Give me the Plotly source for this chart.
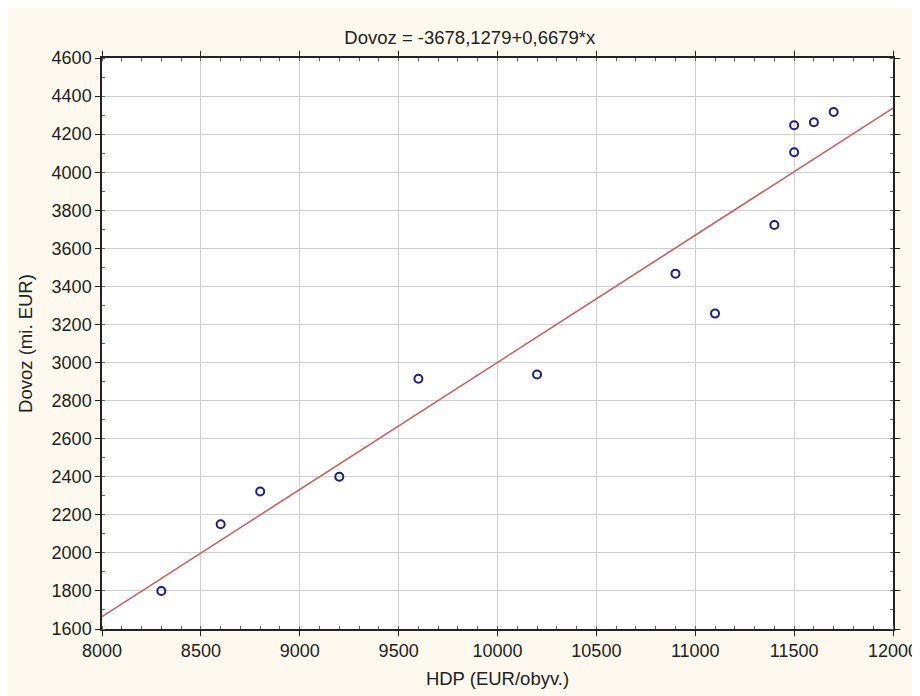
import plotly.graph_objects as go

hdp = [8300, 8600, 8800, 9200, 9600, 10200, 10900, 11100, 11400, 11500, 11500, 11600, 11700]
dovoz = [1800, 2150, 2322, 2400, 2915, 2937, 3467, 3257, 3723, 4105, 4247, 4262, 4316]

intercept = -3678.1279
slope = 0.6679
line_x = [8000, 12000]
line_y = [intercept + slope * v for v in line_x]

x_ticks = list(range(8000, 12001, 500))
y_ticks = list(range(1600, 4601, 200))

W, H = 912, 688
ml, mr, mt, mb = 94, 27, 50, 67

tick_font = dict(family="Liberation Sans, Arial, sans-serif", size=18, color="#222222")
title_font = dict(family="Liberation Sans, Arial, sans-serif", size=18.5, color="#222222")

fig = go.Figure()
fig.add_trace(go.Scatter(x=line_x, y=line_y, mode="lines",
                         line=dict(color="#d05a5a", width=1.6), hoverinfo="skip"))
fig.add_trace(go.Scatter(x=hdp, y=dovoz, mode="markers",
                         marker=dict(symbol="circle-open", size=8, color="#1c1c96",
                                     line=dict(width=2, color="#1c1c96"))))

axis_common = dict(showline=True, linecolor="#222222", linewidth=1.5, mirror="ticks",
                   ticks="outside", ticklen=5, tickcolor="#222222",
                   showgrid=True, gridcolor="#cfcfcf", gridwidth=1, zeroline=False,
                   tickfont=tick_font, tickformat="d", automargin=False,
                   ticklabeloverflow="allow",
                   minor=dict(ticks="inside", ticklen=3, tickcolor="#666666", showgrid=False))

fig.update_xaxes(range=[8000, 12000], tickvals=x_ticks, ticktext=[str(v) for v in x_ticks],
                 title=dict(text="HDP (EUR/obyv.)", font=title_font, standoff=12),
                 **axis_common)
fig.update_xaxes(minor_dtick=100)
fig.update_yaxes(range=[1600, 4600], tickvals=y_ticks, ticktext=[str(v) for v in y_ticks],
                 title=dict(text="Dovoz (mi. EUR)", font=title_font, standoff=14),
                 **axis_common)
fig.update_yaxes(minor_dtick=100)

fig.update_layout(
    width=W, height=H,
    margin=dict(l=ml, r=mr, t=mt, b=mb),
    paper_bgcolor="#fdf9ee", plot_bgcolor="white",
    showlegend=False,
    font=tick_font,
    title=dict(text="Dovoz = -3678,1279+0,6679*x", x=0.465, xref="paper", xanchor="center",
               y=1 - 30 / H, yanchor="middle", font=title_font),
)

fig.write_html("out.html")
